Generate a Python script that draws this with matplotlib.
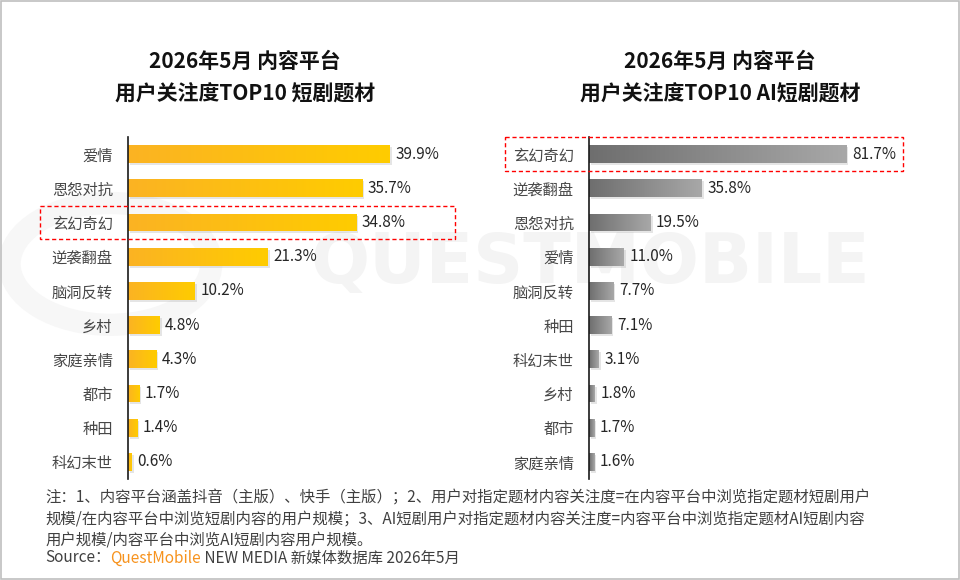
import numpy as np
import matplotlib.pyplot as plt
from matplotlib.colors import LinearSegmentedColormap
from matplotlib.patches import Rectangle, Circle
from matplotlib import patheffects
import matplotlib.transforms as mtransforms

plt.rcParams['font.family'] = ['Noto Sans CJK SC', 'DejaVu Sans']

# data
left_cats = ["爱情", "恩怨对抗", "玄幻奇幻", "逆袭翻盘", "脑洞反转", "乡村", "家庭亲情", "都市", "种田", "科幻末世"]
left_vals = [39.9, 35.7, 34.8, 21.3, 10.2, 4.8, 4.3, 1.7, 1.4, 0.6]
right_cats = ["玄幻奇幻", "逆袭翻盘", "恩怨对抗", "爱情", "脑洞反转", "种田", "科幻末世", "乡村", "都市", "家庭亲情"]
right_vals = [81.7, 35.8, 19.5, 11.0, 7.7, 7.1, 3.1, 1.8, 1.7, 1.6]
left_title = "2026年5月 内容平台\n用户关注度TOP10 短剧题材"
right_title = "2026年5月 内容平台\n用户关注度TOP10 AI短剧题材"
highlight = "玄幻奇幻"

notes = ["注：1、内容平台涵盖抖音（主版）、快手（主版）；2、用户对指定题材内容关注度=在内容平台中浏览指定题材短剧用户",
         "规模/在内容平台中浏览短剧内容的用户规模；3、AI短剧用户对指定题材内容关注度=内容平台中浏览指定题材AI短剧内容",
         "用户规模/内容平台中浏览AI短剧内容用户规模。"]

fig = plt.figure(figsize=(9.6, 5.8), dpi=100)
fig.patch.set_facecolor("white")

# faint watermark behind everything
fig.text(0.615, 0.545, "QUESTMOBILE", fontsize=50, fontweight="bold", color="#f4f4f4",
         ha="center", va="center", family="DejaVu Sans", zorder=-10)
fig.patches.append(Circle((0.115, 0.545), 0.105, transform=fig.transFigure, fill=False,
                          lw=16, ec="#f7f7f7", zorder=-10))

# figure border
fig.patches.append(Rectangle((0.001, 0.001), 0.998, 0.997, transform=fig.transFigure,
                             fill=False, ec="#bfbfbf", lw=1.2, zorder=10))


def draw_panel(ax, cats, vals, xmax, c0, c1):
    cmap = LinearSegmentedColormap.from_list("g", [c0, c1])
    grad = np.linspace(0, 1, 256).reshape(1, -1)
    y = np.arange(len(cats))
    bars = ax.barh(y, vals, height=0.52, color=c1, zorder=2)
    for b, v in zip(bars, vals):
        b.set_path_effects([patheffects.SimplePatchShadow(offset=(1.5, -1.5), shadow_rgbFace="#999999", alpha=0.25),
                            patheffects.Normal()])
        im = ax.imshow(grad, extent=[0, v, b.get_y() + b.get_height(), b.get_y()],
                       aspect="auto", cmap=cmap, zorder=3)
        im.set_clip_path(b)
        ax.annotate(f"{v:.1f}%", xy=(v, b.get_y() + b.get_height() / 2), xytext=(4, 0),
                    textcoords="offset points", va="center", ha="left", fontsize=11,
                    color="#262626", zorder=4)
    ax.set_xlim(0, xmax)
    ax.set_ylim(len(cats) - 0.5, -0.5)
    ax.set_yticks(y)
    ax.set_yticklabels(cats, fontsize=11, color="#474747")
    ax.tick_params(axis="y", length=0, pad=11)
    ax.set_xticks([])
    for s in ["top", "right", "bottom"]:
        ax.spines[s].set_visible(False)
    ax.spines["left"].set_color("#1a1a1a")
    ax.spines["left"].set_linewidth(1.2)
    ax.spines["left"].set_zorder(5)
    ax.patch.set_alpha(0)
    # highlight box
    i = cats.index(highlight)
    trans = mtransforms.blended_transform_factory(ax.transAxes, ax.transData)
    ax.add_patch(Rectangle((-0.268, i - 0.49), 1.265, 0.98, transform=trans, fill=False,
                           ec="#ff0000", lw=1.0, ls=(0, (3, 2)), clip_on=False, zorder=6))


ax1 = fig.add_axes([128 / 960, 101 / 580, 328 / 960, 342 / 580])
draw_panel(ax1, left_cats, left_vals, 50, "#FBB323", "#FFCC00")
ax2 = fig.add_axes([589 / 960, 101 / 580, 315 / 960, 342 / 580])
draw_panel(ax2, right_cats, right_vals, 100, "#6E6E6E", "#A8A8A8")

fig.text(245 / 960, 1 - 78 / 580, left_title, ha="center", va="center", fontsize=15,
         fontweight="bold", linespacing=1.7, color="#111111")
fig.text(720 / 960, 1 - 78 / 580, right_title, ha="center", va="center", fontsize=15,
         fontweight="bold", linespacing=1.7, color="#111111")

# notes
for line, yy in zip(notes, [497, 519, 540]):
    fig.text(45 / 960, 1 - yy / 580, line, ha="left", va="center", fontsize=11.1, color="#404040")
t = fig.text(45 / 960, 1 - 558 / 580, "Source：", ha="left", va="center", fontsize=11.1, color="#404040")
t2 = fig.add_artist(plt.Annotation("QuestMobile", xy=(1, 0.5), xycoords=t, va="center", ha="left",
                                   fontsize=11.1, color="#F7931E", annotation_clip=False))
fig.add_artist(plt.Annotation(" NEW MEDIA 新媒体数据库 2026年5月", xy=(1, 0.5), xycoords=t2, va="center",
                              ha="left", fontsize=11.1, color="#404040", annotation_clip=False))

fig.savefig("out.png", dpi=100)
